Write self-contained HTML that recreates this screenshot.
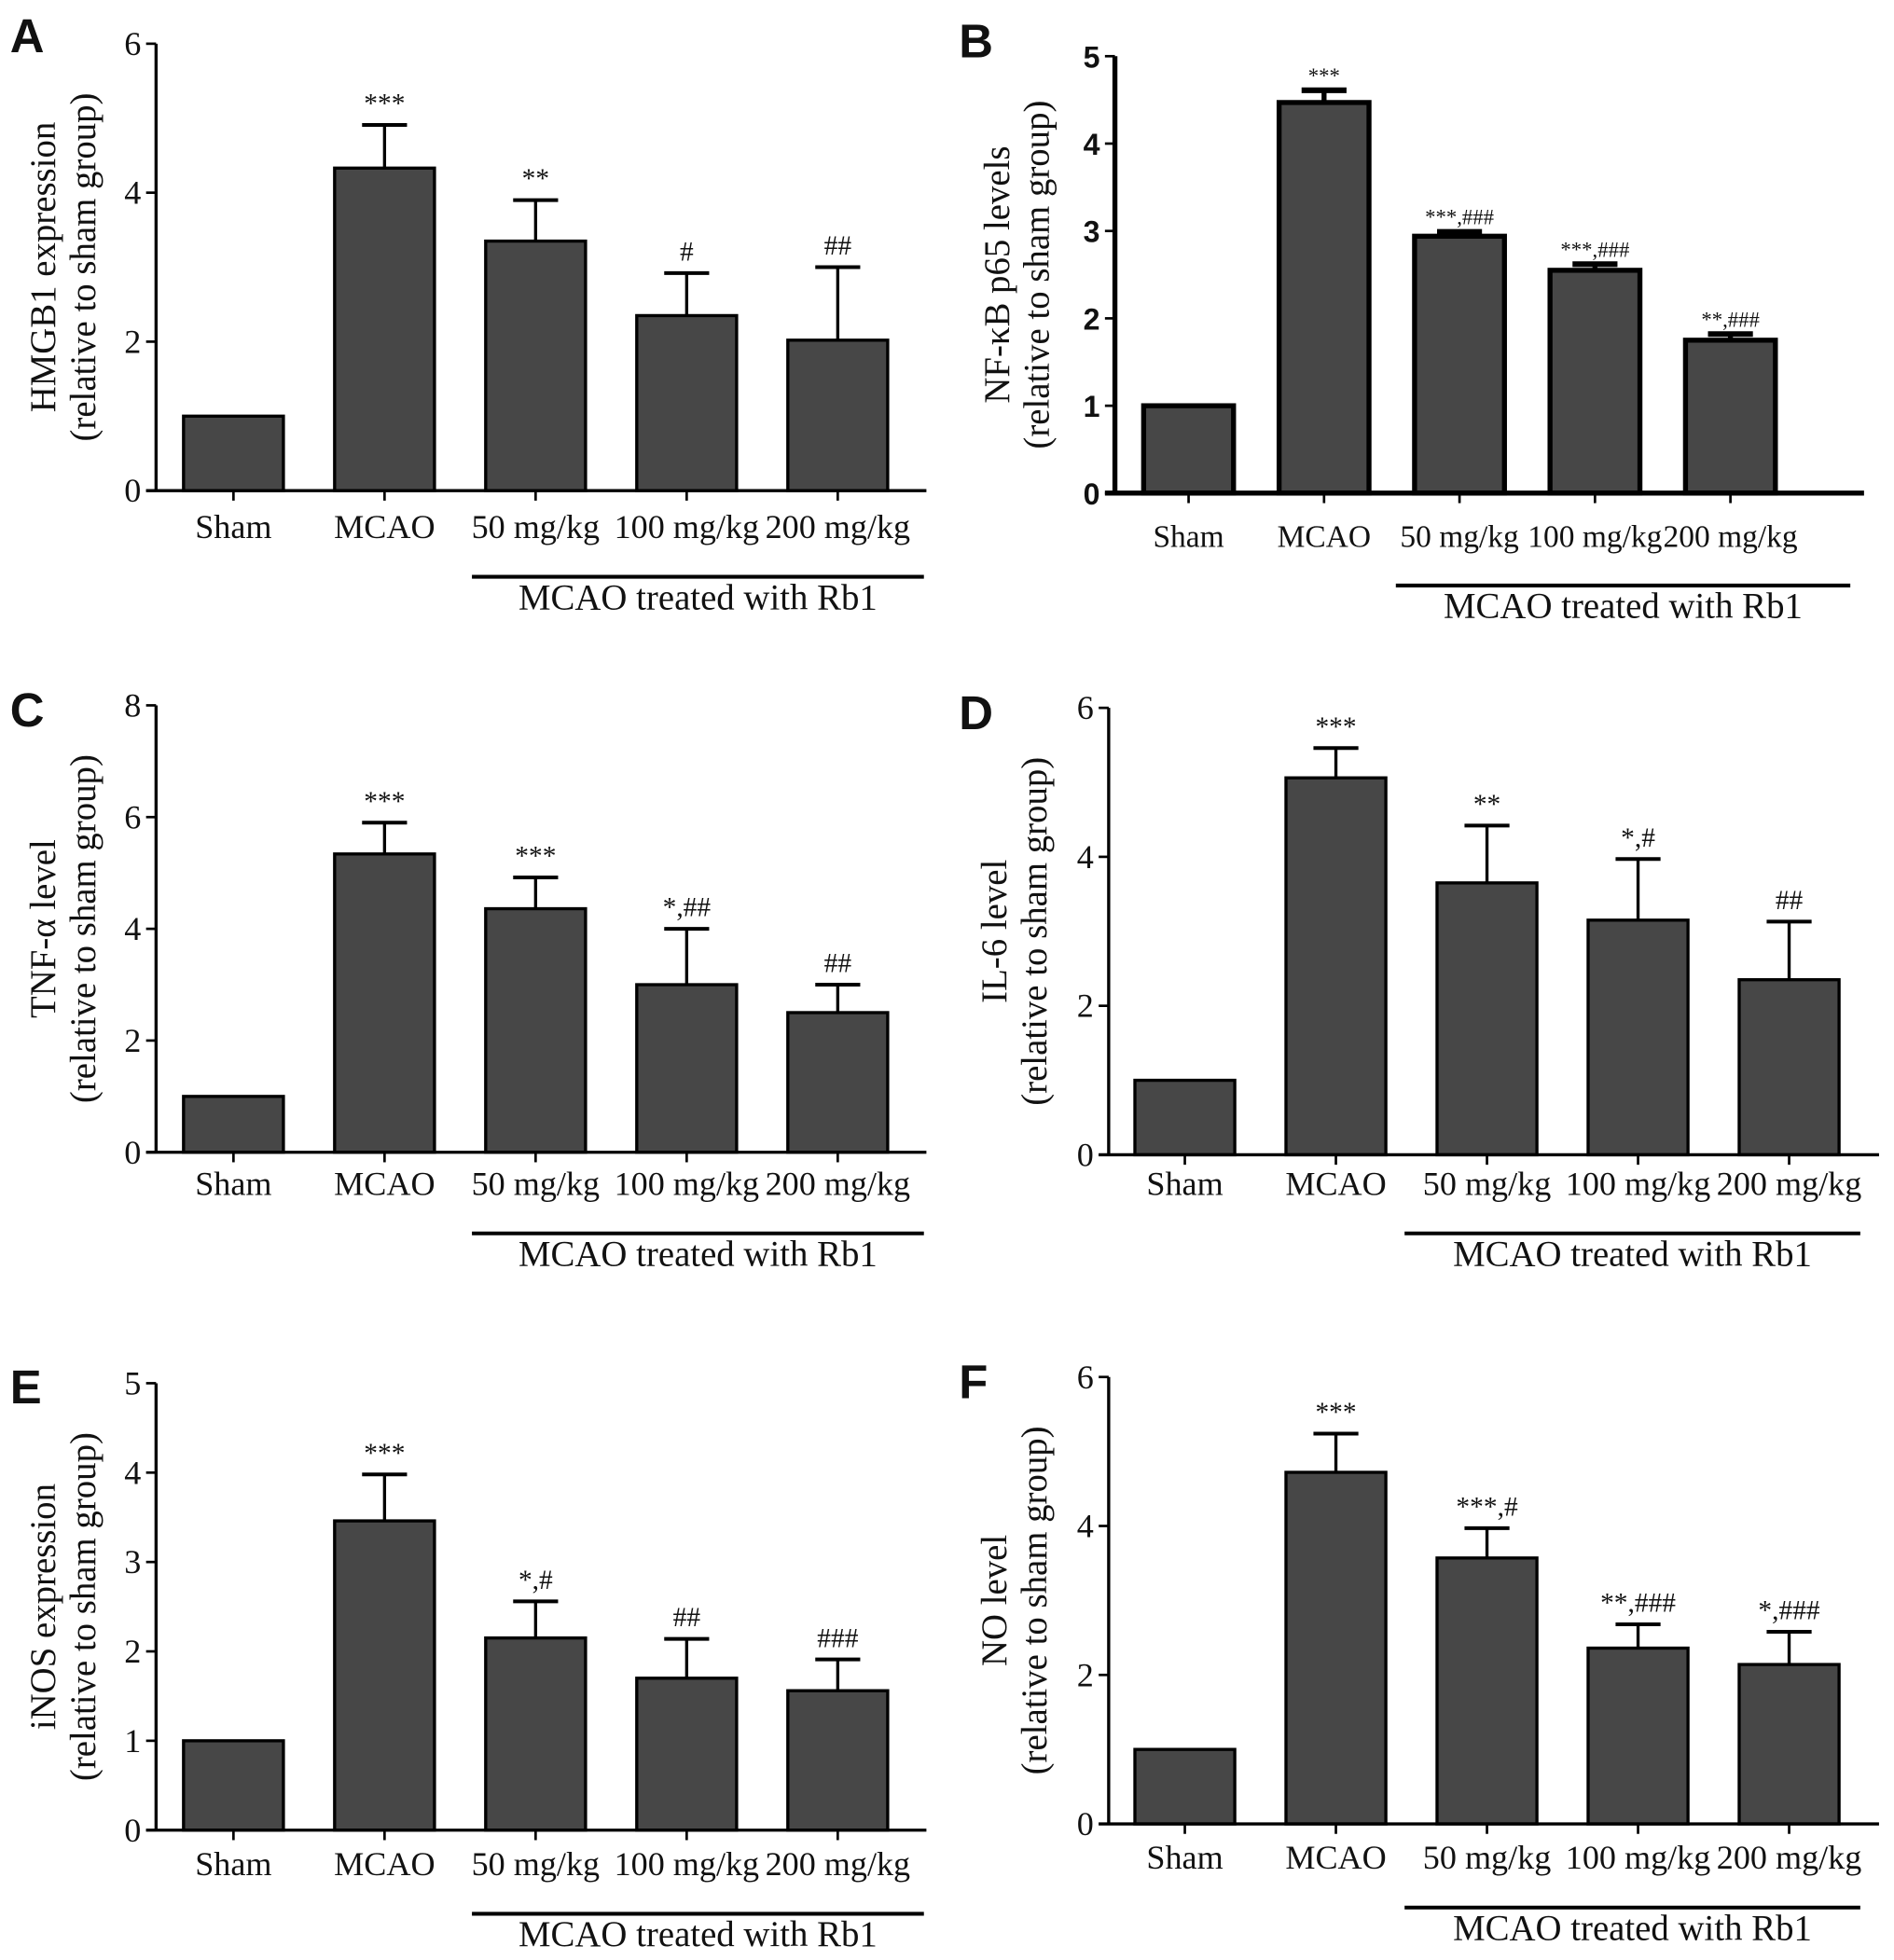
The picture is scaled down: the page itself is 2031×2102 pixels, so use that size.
<!DOCTYPE html>
<html><head><meta charset="utf-8"><style>
html,body{margin:0;padding:0;background:#fff;}
svg{display:block;}
text{fill:#111;}
</style></head><body>
<svg id="fig" width="2031" height="2102" viewBox="0 0 1517 1570" xmlns="http://www.w3.org/2000/svg" font-family="Liberation Serif, serif"></svg>
<script>
const categories = ["Sham","MCAO","50 mg/kg","100 mg/kg","200 mg/kg"];
const hmgb1Values = [1,4.33,3.35,2.35,2.02];
const hmgb1Errors = [0,0.58,0.55,0.57,0.98];
const hmgb1Sig = ["","***","**","#","##"];
const nfkbValues = [1,4.47,2.94,2.55,1.75];
const nfkbErrors = [0,0.14,0.05,0.07,0.07];
const nfkbSig = ["","***","***,###","***,###","**,###"];
const tnfValues = [1,5.34,4.36,3.0,2.5];
const tnfErrors = [0,0.56,0.56,1.0,0.5];
const tnfSig = ["","***","***","*,##","##"];
const il6Values = [1,5.06,3.65,3.15,2.35];
const il6Errors = [0,0.4,0.77,0.82,0.78];
const il6Sig = ["","***","**","*,#","##"];
const inosValues = [1,3.46,2.15,1.70,1.56];
const inosErrors = [0,0.52,0.41,0.44,0.35];
const inosSig = ["","***","*,#","##","###"];
const noValues = [1,4.72,3.57,2.36,2.14];
const noErrors = [0,0.52,0.40,0.32,0.44];
const noSig = ["","***","***,#","**,###","*,###"];
const yTicks6 = [0,2,4,6];
const yTicks5 = [0,1,2,3,4,5];
const yTicks8 = [0,2,4,6,8];

const NS="http://www.w3.org/2000/svg";
const svg=document.getElementById('fig');
const SANS='font-family:"Liberation Sans",sans-serif;font-weight:bold;';
const SERIF='font-family:"Liberation Serif",serif;';
function mk(tag,attrs,parent){const e=document.createElementNS(NS,tag);for(const k in attrs)e.setAttribute(k,attrs[k]);(parent||svg).appendChild(e);return e;}

function panel(p){
  const g=mk('g',{});
  
  
  const ymax=p.ticks[p.ticks.length-1];
  const yS=v=>p.y0-(p.y0-p.yTop)*v/ymax;
  const xS=i=>p.firstCenter+i*p.step;
  const L=mk('text',{x:p.letterX,y:p.letterY,style:SANS+'font-size:38px;'},g);
  L.textContent=p.letter;
  
  
  p.values.forEach((v,i)=>{
    const cx=xS(i), top=yS(v);
    const r=mk('rect',{x:cx-p.bw/2,y:top,width:p.bw,height:p.y0-top,fill:'#474747',stroke:'#000','stroke-width':p.sw},g);
    
    
    if(p.errs[i]>0){
      const et=yS(v+p.errs[i]);
      const e1=mk('line',{x1:cx,x2:cx,y1:top,y2:et,stroke:'#000','stroke-width':p.sw},g);
      
      
      mk('line',{x1:cx-p.cap,x2:cx+p.cap,y1:et,y2:et,stroke:'#000','stroke-width':p.sw+0.5},g);
      if(p.sig[i]){
        const s=mk('text',{x:cx,y:et-p.sigGap,'text-anchor':'middle',style:SERIF+'font-size:'+p.sigSize+'px;'},g);
        s.textContent=p.sig[i];
        
        
      }
    }
    mk('line',{x1:cx,x2:cx,y1:p.y0,y2:p.y0+8,stroke:'#000','stroke-width':2},g);
    const t=mk('text',{x:cx,y:p.labelY,'text-anchor':'middle',style:SERIF+'font-size:'+(p.catSize||27)+'px;'},g);
    t.textContent=categories[i];
    
    
  });
  const ya=mk('line',{x1:p.ax,x2:p.ax,y1:p.yTop,y2:p.y0,stroke:'#000','stroke-width':p.axw},g);
  
  
  const xa=mk('line',{x1:p.ax-8,x2:p.xEnd,y1:p.y0,y2:p.y0,stroke:'#000','stroke-width':p.axw},g);
  
  
  p.ticks.forEach(t=>{
    const y=yS(t);
    mk('line',{x1:p.ax-8,x2:p.ax,y1:y,y2:y,stroke:'#000','stroke-width':2},g);
    const tx=mk('text',{x:p.ax-12,y:y+9,'text-anchor':'end',style:(p.bold?SANS+'font-size:24px;':SERIF+'font-size:27px;')},g);
    tx.textContent=t;
    
    
  });
  const ul=mk('line',{x1:p.ulX1,x2:p.ulX2,y1:p.labelY+31,y2:p.labelY+31,stroke:'#000','stroke-width':3},g);
  
  
  const gt=mk('text',{x:(p.ulX1+p.ulX2)/2,y:p.labelY+57,'text-anchor':'middle',style:SERIF+'font-size:29px;'},g);
  gt.textContent='MCAO treated with Rb1';
  
  
  const my=(p.yTop+p.y0)/2;
  const t1=mk('text',{x:0,y:0,'text-anchor':'middle',style:SERIF+'font-size:29px;',transform:`translate(${p.titleX},${my}) rotate(-90)`},g);
  t1.textContent=p.title;
  
  
  const t2=mk('text',{x:0,y:0,'text-anchor':'middle',style:SERIF+'font-size:29px;',transform:`translate(${p.titleX+32},${my}) rotate(-90)`},g);
  t2.textContent='(relative to sham group)';
  
  
}
const leftBase={ax:125,firstCenter:187,step:121,bw:80,sw:2.5,axw:2.5,cap:18,sigGap:10,sigSize:22,xEnd:742,ulX1:378,ulX2:740,titleX:44,letterX:8};
panel(Object.assign({},leftBase,{letter:'A',letterY:42,values:hmgb1Values,errs:hmgb1Errors,sig:hmgb1Sig,ticks:yTicks6,yTop:35,y0:393,labelY:431,title:'HMGB1 expression'}));
panel(Object.assign({},leftBase,{letter:'C',letterY:582,values:tnfValues,errs:tnfErrors,sig:tnfSig,ticks:yTicks8,yTop:565,y0:923,labelY:957,title:'TNF-α  level'}));
panel(Object.assign({},leftBase,{letter:'E',letterY:1124,values:inosValues,errs:inosErrors,sig:inosSig,ticks:yTicks5,yTop:1108,y0:1466,labelY:1502,title:'iNOS expression'}));
const rightBase={ax:888,firstCenter:949,step:121,bw:80,sw:2.5,axw:2.5,cap:18,sigGap:10,sigSize:22,xEnd:1505,ulX1:1125,ulX2:1490,titleX:806,letterX:768};
panel({ax:893,firstCenter:952,step:108.5,bw:72,sw:4,axw:4,cap:18,sigGap:6,sigSize:17,xEnd:1493,ulX1:1118,ulX2:1482,titleX:808,letterX:768,bold:true,catSize:25,
  letter:'B',letterY:46,values:nfkbValues,errs:nfkbErrors,sig:nfkbSig,ticks:yTicks5,yTop:45,y0:395,labelY:438,title:'NF-κB p65 levels'});
panel(Object.assign({},rightBase,{letter:'D',letterY:584,values:il6Values,errs:il6Errors,sig:il6Sig,ticks:yTicks6,yTop:567,y0:925,labelY:957,title:'IL-6 level'}));
panel(Object.assign({},rightBase,{letter:'F',letterY:1120,values:noValues,errs:noErrors,sig:noSig,ticks:yTicks6,yTop:1103,y0:1461,labelY:1497,title:'NO level'}));
</script>
</body></html>
